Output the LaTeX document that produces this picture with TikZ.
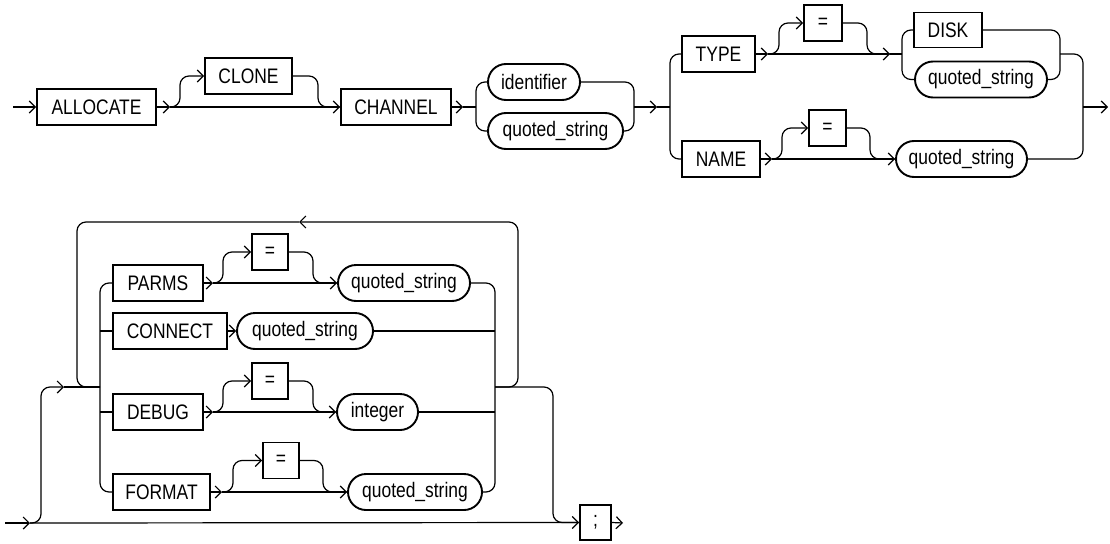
\documentclass[tikz,border=0pt]{standalone}
\usepackage{fontspec}
\setmainfont{Liberation Sans}[FakeStretch=0.83]
\usepackage{tikz}
\usetikzlibrary{arrows.meta,shapes.misc}
\tikzset{
  >={Straight Barb[length=6pt,width=12pt]},
  kwd/.style={draw,line width=1.9pt,minimum height=36pt,inner sep=0pt},
  vrb/.style={draw,rounded rectangle,line width=1.9pt,minimum height=36pt,inner sep=0pt},
  rail/.style={line width=1.2pt,rounded corners=9pt},
  raila/.style={rail,->},
}
\begin{document}
\begin{tikzpicture}[x=1pt,y=-1pt,font=\fontsize{21pt}{25pt}\selectfont]
  \useasboundingbox (0,0) rectangle (1110,543);
  % --- first row: nodes ---
  \node[kwd,minimum width=119pt] (allocate) at (96.5,107) {ALLOCATE};
  \node[kwd,minimum width=87pt]  (clone)    at (248.5,76) {CLONE};
  \node[kwd,minimum width=110pt] (channel)  at (396,107)  {CHANNEL};
  \node[vrb,minimum width=92pt]  (ident)    at (534,82)   {identifier};
  \node[vrb,minimum width=135pt] (qs1)      at (555.5,131){quoted\_string};
  \node[kwd,minimum width=73pt]  (type)     at (718.5,54) {TYPE};
  \node[kwd,minimum width=78pt]  (name)     at (721,159)  {NAME};
  \node[kwd,minimum width=38pt]  (eq1)      at (823,23)   {=};
  \node[kwd,minimum width=37pt]  (eq2)      at (827.5,128){=};
  \node[kwd,minimum width=68pt,minimum height=35pt] (disk) at (948,30) {DISK};
  \node[vrb,minimum width=132pt] (qs2)      at (981,79.5) {quoted\_string};
  \node[vrb,minimum width=131pt] (qs3)      at (961.5,159){quoted\_string};
  % --- first row: junctions ---
  \coordinate (in1) at (13,107);
  \coordinate (s1)  at (170,107);
  \coordinate (j1)  at (318,107);
  \coordinate (s2)  at (463,107);
  \coordinate (b2)  at (476,107);
  \coordinate (e2)  at (634,107);
  \coordinate (s3)  at (657,107);
  \coordinate (b3)  at (670,107);
  \coordinate (s4)  at (768,54);
  \coordinate (j4)  at (867,54);
  \coordinate (t4)  at (890,54);
  \coordinate (b4)  at (902,54);
  \coordinate (e4)  at (1060,54);
  \coordinate (e5)  at (1083,107);
  \coordinate (out1) at (1108,107);
  \coordinate (s5)  at (772,159);
  \coordinate (j5)  at (870,159);
  % --- first row: rails ---
  \draw[raila] (in1) -- (allocate.west);
  \draw[raila] (allocate.east) -- (s1);
  \draw[raila] (s1) -- (channel.west);
  \draw[raila] (s1) -- ++(10,0) |- (clone.west);
  \draw[rail]  (clone.east) -| (j1) -- (channel.west);
  \draw[raila] (channel.east) -- (s2);
  \draw[rail]  (s2) -- (b2);
  \draw[rail]  (ident.west) -| (b2) |- (qs1.west);
  \draw[rail]  (ident.east) -| (e2) |- (qs1.east);
  \draw[raila] (e2) -- (s3);
  \draw[rail]  (s3) -- (b3);
  \draw[rail]  (type.west) -| (b3) |- (name.west);
  % TYPE
  \draw[raila] (type.east) -- (s4);
  \draw[raila] (s4) -- (t4);
  \draw[raila] (s4) -- ++(11,0) |- (eq1.west);
  \draw[rail]  (eq1.east) -| (j4) -- (t4);
  \draw[rail]  (t4) -- (b4);
  \draw[rail]  (disk.west) -| (b4) |- (qs2.west);
  \draw[rail]  (disk.east) -| (e4) |- (qs2.east);
  \draw[rail]  (e4) -| (e5) |- (qs3.east);
  \draw[raila] (e5) -- (out1);
  % NAME
  \draw[raila] (name.east) -- (s5);
  \draw[raila] (s5) -- (qs3.west);
  \draw[raila] (s5) -- ++(10,0) |- (eq2.west);
  \draw[rail]  (eq2.east) -| (j5) -- (qs3.west);

  % --- second row: nodes ---
  \node[kwd,minimum width=90pt]  (parms)   at (158,283)   {PARMS};
  \node[kwd,minimum width=114pt] (connect) at (170,331)   {CONNECT};
  \node[kwd,minimum width=90pt]  (debug)   at (158,412)   {DEBUG};
  \node[kwd,minimum width=97pt]  (format)  at (161.5,492) {FORMAT};
  \node[kwd,minimum width=36pt]  (eqp)     at (270,252)   {=};
  \node[kwd,minimum width=36pt]  (eqd)     at (270,381)   {=};
  \node[kwd,minimum width=36pt]  (eqf)     at (281,460.5) {=};
  \node[vrb,minimum width=132pt] (qsp)     at (404,283)   {quoted\_string};
  \node[vrb,minimum width=136pt] (qsc)     at (305,331)   {quoted\_string};
  \node[vrb,minimum width=81pt]  (integer) at (377.5,412) {integer};
  \node[vrb,minimum width=134pt] (qsf)     at (415,492)   {quoted\_string};
  \node[kwd,minimum width=31pt,minimum height=35pt] (semi) at (595.5,522.5) {;};
  % --- second row: junctions ---
  \coordinate (in2) at (5,523);
  \coordinate (s6)  at (30,523);
  \coordinate (s7)  at (64,387);
  \coordinate (k7)  at (77,387);
  \coordinate (b7)  at (100,387);
  \coordinate (l7)  at (299,222);
  \coordinate (e7)  at (495,387);
  \coordinate (x8)  at (553,450);
  \coordinate (s8)  at (213,283);
  \coordinate (j8)  at (313,283);
  \coordinate (s9)  at (213,412);
  \coordinate (j9)  at (313,412);
  \coordinate (s10) at (222,492);
  \coordinate (j10) at (323,492);
  \coordinate (out2) at (623,523);
  % --- second row: rails ---
  \draw[raila] (in2) -- (s6);
  \draw[raila] (s6) -- (semi.west);
  \draw[raila] (s6) -- ++(11,0) |- (s7);
  \draw[rail]  (s7) -- (b7);
  \draw[rail]  (parms.west) -| (b7) |- (format.west);
  \draw[rail]  (connect.west) -- (connect.west -| b7);
  \draw[rail]  (debug.west) -- (debug.west -| b7);
  \draw[rail]  (qsp.east) -| (e7) |- (qsf.east);
  \draw[rail]  (qsc.east) -- (qsc.east -| e7);
  \draw[rail]  (integer.east) -- (integer.east -| e7);
  % repeat loop
  \draw[raila] (e7) -- ++(23,0) |- (l7);
  \draw[rail]  (l7) -| (k7) -- (b7);
  \draw[rail]  (e7) -| (x8) |- (semi.west);
  % PARMS
  \draw[raila] (parms.east) -- (s8);
  \draw[raila] (s8) -- (qsp.west);
  \draw[raila] (s8) -- ++(10,0) |- (eqp.west);
  \draw[rail]  (eqp.east) -| (j8) -- (qsp.west);
  % CONNECT
  \draw[raila] (connect.east) -- (qsc.west);
  % DEBUG
  \draw[raila] (debug.east) -- (s9);
  \draw[raila] (s9) -- (integer.west);
  \draw[raila] (s9) -- ++(10,0) |- (eqd.west);
  \draw[rail]  (eqd.east) -| (j9) -- (integer.west);
  % FORMAT
  \draw[raila] (format.east) -- (s10);
  \draw[raila] (s10) -- (qsf.west);
  \draw[raila] (s10) -- ++(11,0) |- (eqf.west);
  \draw[rail]  (eqf.east) -| (j10) -- (qsf.west);
  \draw[raila] (semi.east) -- (out2);
\end{tikzpicture}
\end{document}
